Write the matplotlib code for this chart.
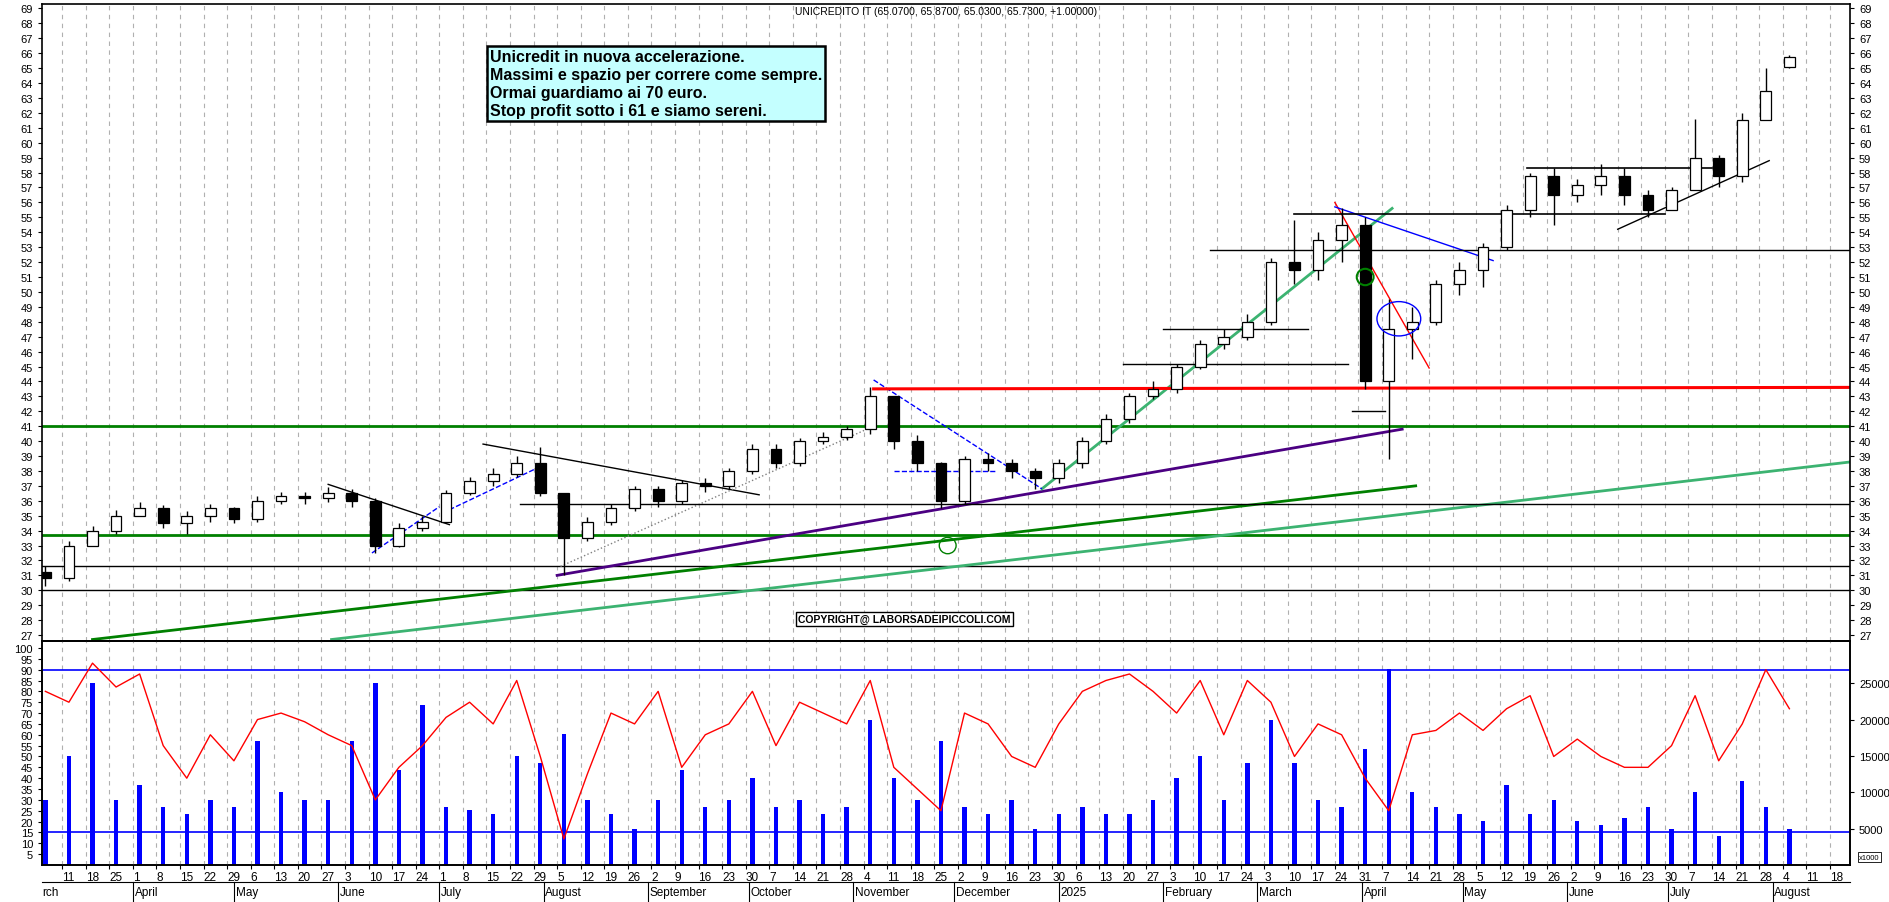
import matplotlib
matplotlib.use("Agg")
import matplotlib.pyplot as plt
import matplotlib.dates as mdates
from matplotlib.patches import Rectangle, Ellipse
import pandas as pd
import numpy as np

plt.rcParams['font.family'] = 'Liberation Sans'

# ---------------- DATA (weekly, week starting Monday) ----------------
week_start = pd.date_range("2024-03-04", "2025-08-04", freq="W-MON")
opens = [31.2,30.8,33.0,34.0,35.0,35.5,34.5,35.0,35.5,34.8,36.0,36.3,36.2,36.5,36.0,33.0,34.2,34.6,36.5,37.3,37.8,38.5,36.5,33.5,34.6,35.5,36.8,36.0,37.2,37.0,38.0,39.5,38.5,40.0,40.3,40.8,43.0,40.0,38.5,36.0,38.8,38.5,38.0,37.5,
         38.5,40.0,41.5,43.0, 43.5,45.0,46.5,47.0, 48.0,52.0,51.5,53.5,54.5, 44.0,47.5,48.0,50.5, 51.5,53.0,55.5,57.8, 56.5,57.2,57.8,56.5,55.5, 56.8,59.0,57.8,61.5, 65.07]
closes = [30.8,33.0,34.0,35.0,35.5,34.5,35.0,35.5,34.8,36.0,36.3,36.2,36.5,36.0,33.0,34.2,34.6,36.5,37.3,37.8,38.5,36.5,33.5,34.6,35.5,36.8,36.0,37.2,37.0,38.0,39.5,38.5,40.0,40.3,40.8,43.0,40.0,38.5,36.0,38.8,38.5,38.0,37.5,38.5,
          40.0,41.5,43.0,43.5, 45.0,46.5,47.0,48.0, 52.0,51.5,53.5,54.5,44.0, 47.5,48.0,50.5,51.5, 53.0,55.5,57.8,56.5, 57.2,57.8,56.5,55.5,56.8, 59.0,57.8,61.5,63.5, 65.73]
highs = [31.6,33.3,34.3,35.4,35.9,35.7,35.3,35.8,35.6,36.3,36.6,36.6,36.9,36.8,36.2,34.5,35.0,36.7,37.6,38.2,39.0,39.6,35.5,34.9,35.8,37.0,37.0,37.4,37.5,38.2,39.8,39.8,40.2,40.6,41.0,43.6,43.0,40.4,38.6,39.0,39.2,38.8,38.2,38.8,
         40.3,41.8,43.2,44.0, 45.2,46.8,47.5,48.5, 52.3,54.8,54.0,55.6,55.0, 49.5,49.0,50.8,52.0, 53.3,55.8,58.0,58.3, 57.6,58.6,58.3,56.8,57.0, 61.6,59.2,62.0,65.0, 65.87]
lows = [30.3,30.6,33.3,33.8,35.0,34.2,33.8,34.6,34.5,34.6,35.8,35.8,35.9,35.6,32.5,32.9,34.0,34.5,36.4,37.0,37.6,36.3,31.0,33.3,34.4,35.3,35.6,35.8,36.6,36.8,37.8,38.2,38.3,39.8,40.1,40.5,39.5,38.0,35.5,35.8,38.0,37.5,36.8,37.2,
        38.2,39.8,41.2,42.8, 43.2,44.8,46.2,46.8, 47.8,50.5,50.8,52.0,43.5, 38.8,45.5,47.8,49.8, 50.3,52.8,55.0,54.5, 56.0,56.5,55.8,55.0,55.5, 56.8,57.0,57.4,62.0, 65.03]
rsi = [80,75,93,82,88,55,40,60,48,67,70,66,60,55,30,45,55,68,75,65,85,50,12,42,70,65,80,45,60,65,80,55,75,70,65,85,45,35,25,70,65,50,45,65,
       80,85,88,80, 70,85,60,85, 75,50,65,60,40, 25,60,62,70, 62,72,78,50, 58,50,45,45,55, 78,48,65,90, 72]
volume_k = [9,15,25,9,11,8,7,9,8,17,10,9,9,17,25,13,22,8,7.5,7,15,14,18,9,7,5,9,13,8,9,12,8,9,7,8,20,12,9,17,8,7,9,5,7,
            8,7,7,9, 12,15,9,14, 20,14,9,8,16, 27,10,8,7, 6,11,7,9, 6,5.5,6.5,8,5, 10,4,11.5,8,5]

d = lambda s: mdates.date2num(pd.Timestamp(s))
trend_lines = [
    ("2024-03-20", 26.7, "2025-04-17", 37.0, "#008000", 2.0, "-"),
    ("2024-05-30", 26.7, "2025-08-24", 38.6, "#3cb371", 2.0, "-"),
    ("2024-08-05", 31.0, "2025-04-13", 40.8, "#4b0082", 2.0, "-"),
    ("2024-12-27", 36.8, "2025-04-10", 55.6, "#3cb371", 2.0, "-"),
    ("2024-07-14", 39.8, "2024-10-04", 36.4, "black", 1.0, "-"),
    ("2024-05-29", 37.1, "2024-07-04", 34.4, "black", 1.0, "-"),
    ("2024-06-11", 32.5, "2024-07-01", 35.6, "blue", 1.0, "--"),
    ("2024-07-04", 35.4, "2024-08-01", 38.4, "blue", 1.0, "--"),
    ("2024-11-07", 44.1, "2024-12-27", 36.8, "blue", 1.0, "--"),
    ("2024-11-13", 38.0, "2024-12-13", 38.0, "blue", 1.0, "--"),
    ("2024-08-06", 31.6, "2024-11-06", 40.9, "gray", 1.0, ":"),
    ("2025-03-24", 56.0, "2025-04-21", 44.9, "red", 1.0, "-"),
    ("2025-03-24", 55.7, "2025-05-10", 52.1, "blue", 1.0, "-"),
    ("2025-06-16", 54.2, "2025-07-31", 58.8, "black", 1.0, "-"),
    ("2025-02-01", 47.5, "2025-03-16", 47.5, "black", 1.0, "-"),
    ("2025-01-20", 45.2, "2025-03-28", 45.2, "black", 1.0, "-"),
    ("2025-03-12", 55.2, "2025-06-30", 55.2, "black", 1.2, "-"),
    ("2025-05-20", 58.3, "2025-07-14", 58.3, "black", 1.2, "-"),
    ("2025-03-29", 42.0, "2025-04-08", 42.0, "black", 1.0, "-"),
    ("2024-07-25", 35.8, "2025-08-24", 35.8, "black", 1.0, "-"),
    ("2025-02-15", 52.8, "2025-08-24", 52.8, "black", 1.0, "-"),
    ("2024-11-07", 43.5, "2025-08-24", 43.6, "red", 2.2, "-"),
]
full_lines = [(41.0, "#008000", 2.0), (33.7, "#008000", 2.0), (30.0, "black", 1.0), (31.6, "black", 1.0)]

fig = plt.figure(figsize=(18.9, 9.03), dpi=100)
L, R = 42/1890, 1850/1890
ax = fig.add_axes([L, 1-642/903, R-L, (642-5)/903])
axb = fig.add_axes([L, 1-866/903, R-L, (866-642)/903], sharex=ax)

x0, x1 = d("2024-03-05"), d("2025-08-24")
xs = mdates.date2num(week_start) + 2
w = 3.2
for xi, o, h, l, c in zip(xs, opens, highs, lows, closes):
    ax.vlines(xi, l, h, color="black", lw=1, zorder=3)
    lo, hi = min(o, c), max(o, c)
    ax.add_patch(Rectangle((xi - w/2, lo), w, max(hi - lo, 0.08),
                           facecolor="white" if c >= o else "black",
                           edgecolor="black", lw=0.9, zorder=4))

for y, col, lw in full_lines:
    ax.axhline(y, color=col, lw=lw, zorder=2)
for a, p1, b, p2, col, lw, ls in trend_lines:
    ax.plot([d(a), d(b)], [p1, p2], color=col, lw=lw, ls=ls, zorder=2)

ax.add_patch(Ellipse((d("2025-04-02"), 51.0), 5, 1.1, fill=False, ec="green", lw=1.5, zorder=5))
ax.add_patch(Ellipse((d("2024-11-29"), 33.0), 5, 1.1, fill=False, ec="green", lw=1, zorder=5))
ax.add_patch(Ellipse((d("2025-04-12"), 48.2), 13, 2.3, fill=False, ec="blue", lw=1, zorder=5))

ax.set_xlim(x0, x1)
ax.set_ylim(26.6, 69.3)
ax.set_yticks(range(27, 70))
ax.tick_params(axis="y", labelsize=8, left=True, right=True, labelleft=True, labelright=True, length=3)
ax.tick_params(axis="x", bottom=False, labelbottom=False)

ax.text((795-42)/(1850-42), 0.997, "UNICREDITO IT (65.0700, 65.8700, 65.0300, 65.7300, +1.00000)",
        transform=ax.transAxes, ha="left", va="top", fontsize=7.5)
ax.text(d("2024-07-16"), 66.3,
        "Unicredit in nuova accelerazione.\nMassimi e spazio per correre come sempre.\nOrmai guardiamo ai 70 euro.\nStop profit sotto i 61 e siamo sereni.",
        fontsize=11.5, fontweight="bold", va="top", ha="left", linespacing=1.25,
        bbox=dict(facecolor="#c4ffff", edgecolor="black", lw=1.8, boxstyle="square,pad=0.2"), zorder=6)
ax.text(0.477, 0.035, "COPYRIGHT@ LABORSADEIPICCOLI.COM", transform=ax.transAxes,
        fontsize=7.5, fontweight="bold", ha="center", va="center",
        bbox=dict(facecolor="white", edgecolor="black", lw=1, boxstyle="square,pad=0.2"), zorder=6)

axv = axb.twinx()
axv.bar(xs, [v*1000 for v in volume_k], width=1.3, color="blue", zorder=2)
axv.set_ylim(0, 30800)
axv.set_yticks([5000, 10000, 15000, 20000, 25000])
axv.tick_params(labelsize=8, length=3)
axb.plot(xs, rsi, color="red", lw=1, zorder=5)
axb.set_zorder(axv.get_zorder() + 1)
axb.patch.set_visible(False)
axb.axhline(90, color="blue", lw=1.2)
axb.axhline(15, color="blue", lw=1.2)
axb.set_ylim(0, 103.2)
axb.set_yticks(range(5, 101, 5))
axb.tick_params(axis="y", labelsize=8, length=3)
axv.text(1.005, 0.02, "x1000", transform=axv.transAxes, fontsize=5.5, ha="left", va="bottom",
         bbox=dict(facecolor="white", edgecolor="black", lw=0.6, pad=1))

mondays = pd.date_range("2024-03-11", "2025-08-18", freq="W-MON")
for a_ in (ax, axb):
    for m in mondays:
        a_.axvline(mdates.date2num(m), color="#b0b0b0", lw=0.8, ls=(0, (4, 4)), zorder=0)
axb.set_xticks(mdates.date2num(mondays))
axb.set_xticklabels([str(m.day) for m in mondays], fontsize=8.5, ha="left")
axb.tick_params(axis="x", length=3, pad=1)
months = pd.date_range("2024-04-01", "2025-08-01", freq="MS")
tr = axb.get_xaxis_transform()
for m in months:
    xm = mdates.date2num(m)
    axb.text(xm + 0.5, -0.092, m.strftime("%B") if m.month != 1 else "2025",
             transform=tr, fontsize=8.5, ha="left", va="top")
    axb.plot([xm, xm], [-0.075, -0.16], transform=tr, color="black", lw=0.8, clip_on=False)
axb.text(x0, -0.092, "rch", transform=tr, fontsize=8.5, ha="left", va="top")
axb.plot([0, 1], [-0.075, -0.075], transform=axb.transAxes, color="black", lw=0.8, clip_on=False)

for a_ in (ax, axb, axv):
    for s in a_.spines.values():
        s.set_linewidth(1.2)

fig.savefig("out.png", dpi=100)
